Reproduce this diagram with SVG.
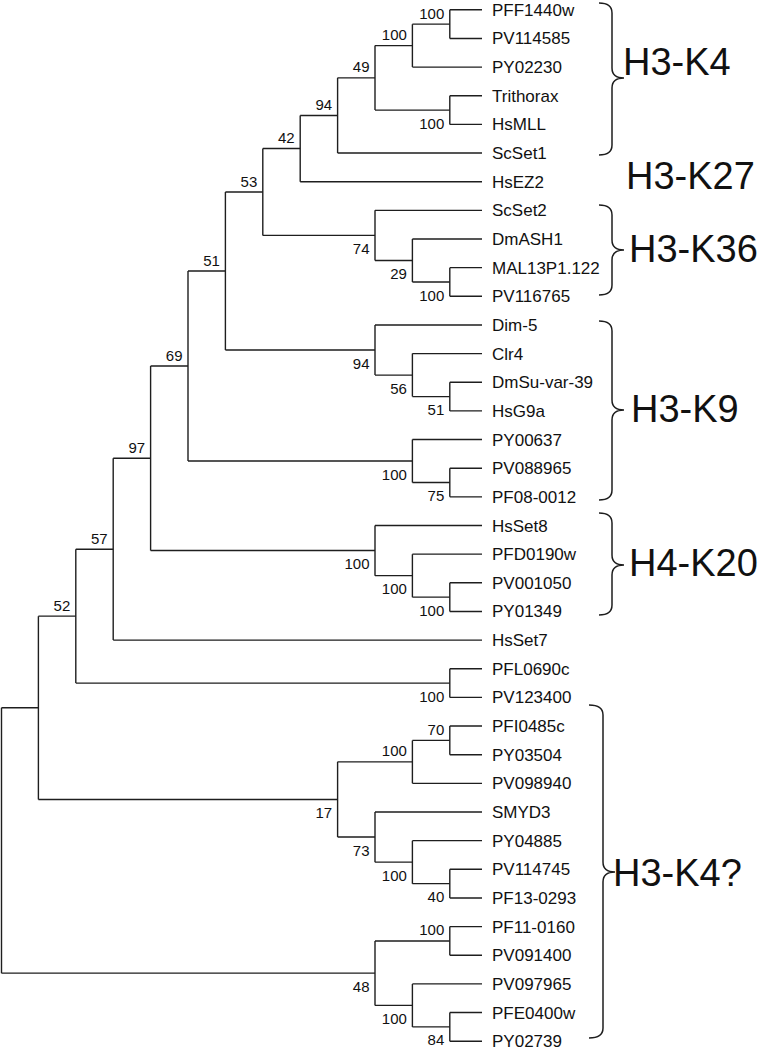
<svg xmlns="http://www.w3.org/2000/svg" width="767" height="1048" viewBox="0 0 767 1048">
<style>
.br{fill:none;stroke:#1e1e1e;stroke-width:1.4}
.bc{fill:none;stroke:#1e1e1e;stroke-width:1.5}
text{font-family:"Liberation Sans",Arial,sans-serif;fill:#111}
.lf{font-size:17px}
.bs{font-size:15px;text-anchor:end}
.cl{font-size:38px}
</style>
<rect width="767" height="1048" fill="#fff"/>
<g id="connectors" class="br">
<path d="M1.5 707.8V973.16M1.5 707.8H38.4M1.5 973.16H375"/>
<path d="M38.4 616.14V799.47M38.4 616.14H75.8M38.4 799.47H337.6"/>
<path d="M75.8 549.2V683.075M75.8 549.2H113.2M75.8 683.075H449.8"/>
<path d="M113.2 458.3V640.1M113.2 458.3H150.6M113.2 640.1H482"/>
<path d="M150.6 366.02V550.57M150.6 366.02H188M150.6 550.57H375"/>
<path d="M188 271V461.04M188 271H225.4M188 461.04H412.4"/>
<path d="M225.4 191.99V350.02M225.4 191.99H262.8M225.4 350.02H375"/>
<path d="M262.8 148.57V235.42M262.8 148.57H300.2M262.8 235.42H375"/>
<path d="M300.2 115.45V181.7M300.2 115.45H337.6M300.2 181.7H482"/>
<path d="M337.6 77.84V153.05M337.6 77.84H375M337.6 153.05H482"/>
<path d="M375 45.61V110.075M375 45.61H412.4M375 110.075H449.8"/>
<path d="M412.4 24.125V67.1M412.4 24.125H449.8M412.4 67.1H482"/>
<path d="M449.8 9.8V38.45M449.8 9.8H482M449.8 38.45H482"/>
<path d="M449.8 95.75V124.4M449.8 95.75H482M449.8 124.4H482"/>
<path d="M375 210.35V260.49M375 210.35H482M375 260.49H412.4"/>
<path d="M412.4 239V281.975M412.4 239H482M412.4 281.975H449.8"/>
<path d="M449.8 267.65V296.3M449.8 267.65H482M449.8 296.3H482"/>
<path d="M375 324.95V375.09M375 324.95H482M375 375.09H412.4"/>
<path d="M412.4 353.6V396.575M412.4 353.6H482M412.4 396.575H449.8"/>
<path d="M449.8 382.25V410.9M449.8 382.25H482M449.8 410.9H482"/>
<path d="M412.4 439.55V482.525M412.4 439.55H482M412.4 482.525H449.8"/>
<path d="M449.8 468.2V496.85M449.8 468.2H482M449.8 496.85H482"/>
<path d="M375 525.5V575.64M375 525.5H482M375 575.64H412.4"/>
<path d="M412.4 554.15V597.125M412.4 554.15H482M412.4 597.125H449.8"/>
<path d="M449.8 582.8V611.45M449.8 582.8H482M449.8 611.45H482"/>
<path d="M449.8 668.75V697.4M449.8 668.75H482M449.8 697.4H482"/>
<path d="M337.6 761.86V837.07M337.6 761.86H412.4M337.6 837.07H375"/>
<path d="M412.4 740.375V783.35M412.4 740.375H449.8M412.4 783.35H482"/>
<path d="M449.8 726.05V754.7M449.8 726.05H482M449.8 754.7H482"/>
<path d="M375 812V862.14M375 812H482M375 862.14H412.4"/>
<path d="M412.4 840.65V883.625M412.4 840.65H482M412.4 883.625H449.8"/>
<path d="M449.8 869.3V897.95M449.8 869.3H482M449.8 897.95H482"/>
<path d="M375 940.925V1005.39M375 940.925H449.8M375 1005.39H412.4"/>
<path d="M449.8 926.6V955.25M449.8 926.6H482M449.8 955.25H482"/>
<path d="M412.4 983.9V1026.875M412.4 983.9H482M412.4 1026.875H449.8"/>
<path d="M449.8 1012.55V1041.2M449.8 1012.55H482M449.8 1041.2H482"/>
</g>
<g id="leaves" class="lf">
<g id="leaf-PFF1440w"><text x="492" y="15.8">PFF1440w</text></g>
<g id="leaf-PV114585"><text x="492" y="44.45">PV114585</text></g>
<g id="leaf-PY02230"><text x="492" y="73.1">PY02230</text></g>
<g id="leaf-Trithorax"><text x="492" y="101.75">Trithorax</text></g>
<g id="leaf-HsMLL"><text x="492" y="130.4">HsMLL</text></g>
<g id="leaf-ScSet1"><text x="492" y="159.05">ScSet1</text></g>
<g id="leaf-HsEZ2"><text x="492" y="187.7">HsEZ2</text></g>
<g id="leaf-ScSet2"><text x="492" y="216.35">ScSet2</text></g>
<g id="leaf-DmASH1"><text x="492" y="245">DmASH1</text></g>
<g id="leaf-MAL13P1.122"><text x="492" y="273.65">MAL13P1.122</text></g>
<g id="leaf-PV116765"><text x="492" y="302.3">PV116765</text></g>
<g id="leaf-Dim-5"><text x="492" y="330.95">Dim-5</text></g>
<g id="leaf-Clr4"><text x="492" y="359.6">Clr4</text></g>
<g id="leaf-DmSu-var-39"><text x="492" y="388.25">DmSu-var-39</text></g>
<g id="leaf-HsG9a"><text x="492" y="416.9">HsG9a</text></g>
<g id="leaf-PY00637"><text x="492" y="445.55">PY00637</text></g>
<g id="leaf-PV088965"><text x="492" y="474.2">PV088965</text></g>
<g id="leaf-PF08-0012"><text x="492" y="502.85">PF08-0012</text></g>
<g id="leaf-HsSet8"><text x="492" y="531.5">HsSet8</text></g>
<g id="leaf-PFD0190w"><text x="492" y="560.15">PFD0190w</text></g>
<g id="leaf-PV001050"><text x="492" y="588.8">PV001050</text></g>
<g id="leaf-PY01349"><text x="492" y="617.45">PY01349</text></g>
<g id="leaf-HsSet7"><text x="492" y="646.1">HsSet7</text></g>
<g id="leaf-PFL0690c"><text x="492" y="674.75">PFL0690c</text></g>
<g id="leaf-PV123400"><text x="492" y="703.4">PV123400</text></g>
<g id="leaf-PFI0485c"><text x="492" y="732.05">PFI0485c</text></g>
<g id="leaf-PY03504"><text x="492" y="760.7">PY03504</text></g>
<g id="leaf-PV098940"><text x="492" y="789.35">PV098940</text></g>
<g id="leaf-SMYD3"><text x="492" y="818">SMYD3</text></g>
<g id="leaf-PY04885"><text x="492" y="846.65">PY04885</text></g>
<g id="leaf-PV114745"><text x="492" y="875.3">PV114745</text></g>
<g id="leaf-PF13-0293"><text x="492" y="903.95">PF13-0293</text></g>
<g id="leaf-PF11-0160"><text x="492" y="932.6">PF11-0160</text></g>
<g id="leaf-PV091400"><text x="492" y="961.25">PV091400</text></g>
<g id="leaf-PV097965"><text x="492" y="989.9">PV097965</text></g>
<g id="leaf-PFE0400w"><text x="492" y="1018.55">PFE0400w</text></g>
<g id="leaf-PY02739"><text x="492" y="1047">PY02739</text></g>
</g>
<g id="bootstrap" class="bs">
<g id="n-A"><text x="444.3" y="18.6">100</text></g>
<g id="n-B"><text x="406.9" y="40.1">100</text></g>
<g id="n-C"><text x="369.5" y="72.3">49</text></g>
<g id="n-D"><text x="444.3" y="128.6">100</text></g>
<g id="n-E"><text x="332.1" y="110">94</text></g>
<g id="n-F"><text x="294.7" y="143.1">42</text></g>
<g id="n-G"><text x="257.3" y="186.5">53</text></g>
<g id="n-S3"><text x="369.5" y="253.9">74</text></g>
<g id="n-S2"><text x="406.9" y="279">29</text></g>
<g id="n-S1"><text x="444.3" y="300.5">100</text></g>
<g id="n-H"><text x="219.9" y="265.5">51</text></g>
<g id="n-T3"><text x="369.5" y="368.5">94</text></g>
<g id="n-T2"><text x="406.9" y="393.6">56</text></g>
<g id="n-T1"><text x="444.3" y="415.1">51</text></g>
<g id="n-I"><text x="182.5" y="360.5">69</text></g>
<g id="n-U2"><text x="406.9" y="479.5">100</text></g>
<g id="n-U1"><text x="444.3" y="501">75</text></g>
<g id="n-J"><text x="145.1" y="452.8">97</text></g>
<g id="n-V3"><text x="369.5" y="569.1">100</text></g>
<g id="n-V2"><text x="406.9" y="594.1">100</text></g>
<g id="n-V1"><text x="444.3" y="615.6">100</text></g>
<g id="n-K"><text x="107.7" y="543.7">57</text></g>
<g id="n-M"><text x="444.3" y="701.6">100</text></g>
<g id="n-L"><text x="70.3" y="610.6">52</text></g>
<g id="n-W1"><text x="444.3" y="734.9">70</text></g>
<g id="n-W2"><text x="406.9" y="756.4">100</text></g>
<g id="n-P"><text x="332.1" y="818">17</text></g>
<g id="n-X3"><text x="369.5" y="855.6">73</text></g>
<g id="n-X2"><text x="406.9" y="880.6">100</text></g>
<g id="n-X1"><text x="444.3" y="902.1">40</text></g>
<g id="n-Y1"><text x="444.3" y="935.4">100</text></g>
<g id="n-Y4"><text x="369.5" y="991.7">48</text></g>
<g id="n-Y3"><text x="406.9" y="1023.9">100</text></g>
<g id="n-Y2"><text x="444.3" y="1045.4">84</text></g>
</g>
<g id="clade-H3-K4">
<path class="bc" d="M599 3Q612 3 612 13V68Q612 78 624 78Q612 78 612 88V145Q612 155 599 155"/>
<text class="cl" x="623" y="74.5">H3-K4</text>
</g>
<g id="clade-H3-K27">
<text class="cl" x="626" y="189">H3-K27</text>
</g>
<g id="clade-H3-K36">
<path class="bc" d="M599 205Q612 205 612 215V240Q612 250 624 250Q612 250 612 260V285Q612 295 599 295"/>
<text class="cl" x="629" y="262">H3-K36</text>
</g>
<g id="clade-H3-K9">
<path class="bc" d="M599 321Q612 321 612 331V400Q612 410 624 410Q612 410 612 420V490Q612 500 599 500"/>
<text class="cl" x="631" y="422">H3-K9</text>
</g>
<g id="clade-H4-K20">
<path class="bc" d="M599 513Q612 513 612 523V555Q612 565 624 565Q612 565 612 575V605Q612 615 599 615"/>
<text class="cl" x="629" y="576">H4-K20</text>
</g>
<g id="clade-H3-K4q">
<path class="bc" d="M589 705Q603 705 603 715V862Q603 872 615 872Q603 872 603 882V1028Q603 1038 589 1038"/>
<text class="cl" x="613" y="886">H3-K4?</text>
</g>
</svg>
